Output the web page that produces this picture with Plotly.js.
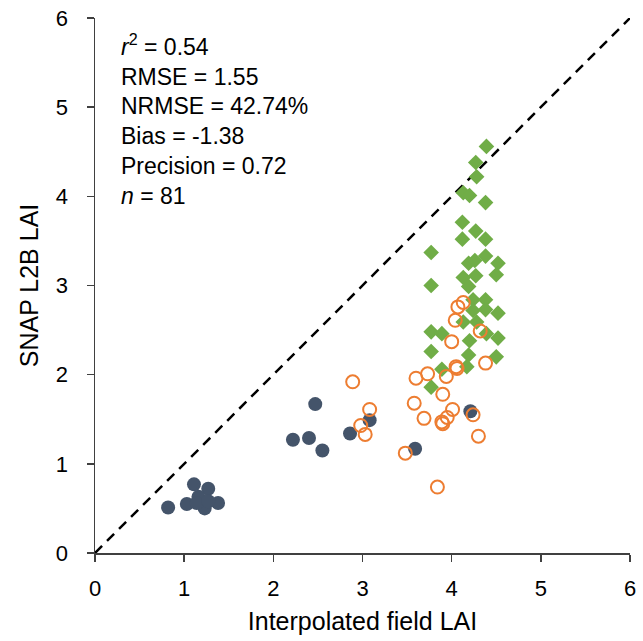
<!DOCTYPE html>
<html>
<head>
<meta charset="utf-8">
<script src="https://cdn.plot.ly/plotly-3.0.1.min.js"></script>
<style>
  body { margin: 0; background: #fff; }
  #lai { width: 643px; height: 641px; }
</style>
</head>
<body>
<div id="lai"></div>
<script>
// field LAI (x) vs SNAP L2B LAI (y), three groups of points
var greenX = [4.39, 4.27, 4.28, 4.13, 4.20, 4.38, 4.12, 4.27, 4.12, 4.38,
              3.77, 4.38, 4.19, 4.26, 4.52, 4.13, 4.27, 4.50, 4.19, 3.77,
              4.24, 4.38, 4.24, 4.38, 4.52, 4.13, 4.28, 4.39, 3.77, 3.89,
              4.52, 4.20, 3.77, 4.19, 4.50, 3.89, 4.17, 3.77];
var greenY = [4.56, 4.38, 4.22, 4.04, 4.01, 3.93, 3.71, 3.61, 3.52, 3.52,
              3.37, 3.33, 3.25, 3.28, 3.25, 3.09, 3.11, 3.12, 2.99, 3.00,
              2.84, 2.84, 2.72, 2.73, 2.69, 2.59, 2.59, 2.46, 2.48, 2.46,
              2.41, 2.38, 2.26, 2.22, 2.20, 2.06, 2.09, 1.86];

var navyX = [0.82, 1.03, 1.11, 1.27, 1.16, 1.23, 1.38, 1.14, 1.27,
             2.47, 2.22, 2.40, 2.55, 2.86, 3.08, 3.59, 4.21];
var navyY = [0.51, 0.55, 0.77, 0.72, 0.63, 0.50, 0.56, 0.56, 0.58,
             1.67, 1.27, 1.29, 1.15, 1.34, 1.49, 1.17, 1.59];

var orangeX = [4.13, 4.07, 4.04, 4.32, 4.00, 4.38, 4.05, 4.06, 3.94, 3.73,
               3.60, 2.89, 3.90, 3.58, 3.08, 4.01, 3.69, 3.95, 3.89, 3.90,
               4.24, 2.98, 3.03, 4.30, 3.48, 3.84];
var orangeY = [2.81, 2.76, 2.61, 2.49, 2.37, 2.13, 2.09, 2.07, 1.98, 2.01,
               1.96, 1.92, 1.78, 1.68, 1.61, 1.61, 1.51, 1.52, 1.47, 1.45,
               1.55, 1.43, 1.33, 1.31, 1.12, 0.74];

var oneToOne = [0, 6];
var tickVals = [0, 1, 2, 3, 4, 5, 6];
var statsLines = ['<i>r</i><sup>2</sup> = 0.54', 'RMSE = 1.55', 'NRMSE = 42.74%',
                  'Bias = -1.38', 'Precision = 0.72', '<i>n</i> = 81'];

var font = 'Liberation Sans, Arial, sans-serif';

var traces = [
    {
        x: oneToOne, y: oneToOne, mode: 'lines', hoverinfo: 'skip',
        line: { color: '#000000', width: 2.5, dash: '10px,7px' }
    },
    {
        x: greenX, y: greenY, mode: 'markers',
        marker: { symbol: 'diamond', size: 12, color: '#70AD47' }
    },
    {
        x: navyX, y: navyY, mode: 'markers',
        marker: { symbol: 'circle', size: 14, color: '#44546A' }
    },
    {
        x: orangeX, y: orangeY, mode: 'markers',
        marker: { symbol: 'circle-open', size: 13, color: '#ED7D31', line: { width: 2, color: '#ED7D31' } }
    }
];

var axisStyle = {
    range: [0, 6],
    tickvals: tickVals,
    showgrid: false,
    zeroline: false,
    showline: true,
    linecolor: '#404040',
    linewidth: 1.5,
    ticks: 'outside',
    ticklen: 7,
    tickwidth: 1.5,
    tickcolor: '#404040',
    tickfont: { family: font, size: 22, color: '#000' },
    fixedrange: true
};

var layout = {
    width: 643,
    height: 641,
    showlegend: false,
    plot_bgcolor: '#ffffff',
    paper_bgcolor: '#ffffff',
    margin: { l: 95, r: 13, t: 18, b: 88 },
    xaxis: Object.assign({}, axisStyle, {
        ticklabelstandoff: 8,
        title: { text: 'Interpolated field LAI', font: { family: font, size: 25, color: '#000' }, standoff: 12 }
    }),
    yaxis: Object.assign({}, axisStyle, {
        ticklabelstandoff: 14,
        title: { text: 'SNAP L2B LAI', font: { family: font, size: 25, color: '#000' }, standoff: 10 }
    }),
    annotations: [{
        xref: 'paper', yref: 'paper',
        x: 0.045, y: 0.982,
        xanchor: 'left', yanchor: 'top', align: 'left',
        showarrow: false,
        text: statsLines.join('<br>'),
        font: { family: font, size: 23, color: '#000' }
    }]
};

Plotly.newPlot('lai', traces, layout, { displayModeBar: false, staticPlot: true });
</script>
</body>
</html>
